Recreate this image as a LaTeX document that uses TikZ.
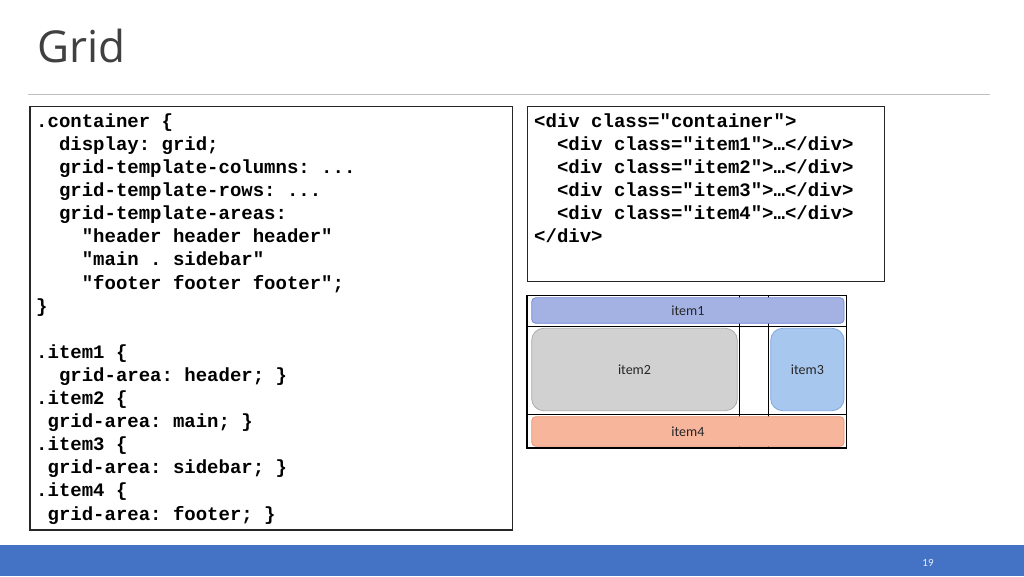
\documentclass[tikz,border=0pt]{standalone}
\usepackage{fontspec}
\setmainfont{Open Sans}
\newfontfamily\codefont{Liberation Mono}[BoldFont={Liberation Mono Bold}]
\newfontfamily\labelfont{Carlito}
\frenchspacing
\definecolor{titlegray}{HTML}{404040}
\definecolor{rulegray}{HTML}{BFBFBF}
\definecolor{barblue}{HTML}{4472C4}
\definecolor{ionefill}{HTML}{A3B1E3}\definecolor{ioneline}{HTML}{7389D4}
\definecolor{itwofill}{HTML}{D1D1D1}\definecolor{itwoline}{HTML}{ABABAB}
\definecolor{ithreefill}{HTML}{A8C7EE}\definecolor{ithreeline}{HTML}{7EA6DD}
\definecolor{ifourfill}{HTML}{F7B59C}\definecolor{ifourline}{HTML}{EC9473}
\begin{document}
\begin{tikzpicture}[x=1pt,y=-1pt,
  code/.style={anchor=base west,inner sep=0pt,font=\codefont\bfseries\fontsize{19}{23}\selectfont\frenchspacing,text=black},
  codebox/.style={draw=black!85,line width=1.3pt},
  gridline/.style={draw=black,line width=1.2pt},
  gitem/.style={draw,line width=0.8pt,inner sep=0pt,font=\labelfont\fontsize{14}{16}\selectfont,text=black!85}]
\useasboundingbox (0,0) rectangle (1024,576);
\fill[white] (0,0) rectangle (1024,576);
% title
\node[anchor=base west,inner sep=0pt,font=\fontsize{44}{50}\selectfont,text=titlegray] (title) at (37,62) {Grid};
\coordinate (rl) at (28,94.6);
\coordinate (rr) at (990,94.6);
\draw[rulegray,line width=0.8pt] (rl) -- (rr);
% left code box
\draw[codebox] (30,106.7) rectangle (512.7,530);
\node[code] (l1) at (36,127.3) {.container \{};
\node[code] (l2) at (36,150.4) {~~display: grid;};
\node[code] (l3) at (36,173.5) {~~grid-template-columns: ...};
\node[code] (l4) at (36,196.6) {~~grid-template-rows: ...};
\node[code] (l5) at (36,219.7) {~~grid-template-areas:};
\node[code] (l6) at (36,242.8) {~~~~"header header header"};
\node[code] (l7) at (36,265.9) {~~~~"main . sidebar"};
\node[code] (l8) at (36,289.0) {~~~~"footer footer footer";};
\node[code] (l9) at (36,312.1) {\}};
\node[code] (l10) at (36,358.3) {.item1 \{};
\node[code] (l11) at (36,381.4) {~~grid-area: header; \}};
\node[code] (l12) at (36,404.5) {.item2 \{};
\node[code] (l13) at (36,427.6) {~grid-area: main; \}};
\node[code] (l14) at (36,450.7) {.item3 \{};
\node[code] (l15) at (36,473.8) {~grid-area: sidebar; \}};
\node[code] (l16) at (36,496.9) {.item4 \{};
\node[code] (l17) at (36,520.0) {~grid-area: footer; \}};
% right code box
\draw[codebox] (527.3,106.7) rectangle (884.3,281.7);
\node[code] (r1) at (534,127.0) {<div class="container">};
\node[code] (r2) at (534,150.0) {~~<div class="item1">…</div>};
\node[code] (r3) at (534,173.0) {~~<div class="item2">…</div>};
\node[code] (r4) at (534,196.0) {~~<div class="item3">…</div>};
\node[code] (r5) at (534,219.0) {~~<div class="item4">…</div>};
\node[code] (r6) at (534,242.0) {</div>};
% grid illustration
\draw[gridline] (527,295.7) rectangle (846.7,448);
\draw[gridline] (527,326.7) -- (846.7,326.7);
\draw[gridline] (527,414.3) -- (846.7,414.3);
\draw[gridline] (739.3,295.7) -- (739.3,448);
\draw[gridline] (768.3,295.7) -- (768.3,448);
\node[gitem,fill=ionefill,draw=ioneline,rounded corners=4pt,minimum width=312.3pt,minimum height=25.6pt] (item1) at (687.9,310.5) {item1};
\node[gitem,fill=itwofill,draw=itwoline,rounded corners=12pt,minimum width=205.6pt,minimum height=82.4pt] (item2) at (634.5,369.5) {item2};
\node[gitem,fill=ithreefill,draw=ithreeline,rounded corners=12pt,minimum width=73.3pt,minimum height=82.4pt] (item3) at (807.35,369.5) {item3};
\node[gitem,fill=ifourfill,draw=ifourline,rounded corners=4pt,minimum width=312.3pt,minimum height=29.6pt] (item4) at (687.9,431.5) {item4};
% bottom bar
\fill[barblue] (0,545) rectangle (1024,576);
\node[inner sep=0pt,font=\labelfont\fontsize{11}{13}\selectfont,text=white!88!barblue] (page) at (928,563) {19};
\end{tikzpicture}
\end{document}
